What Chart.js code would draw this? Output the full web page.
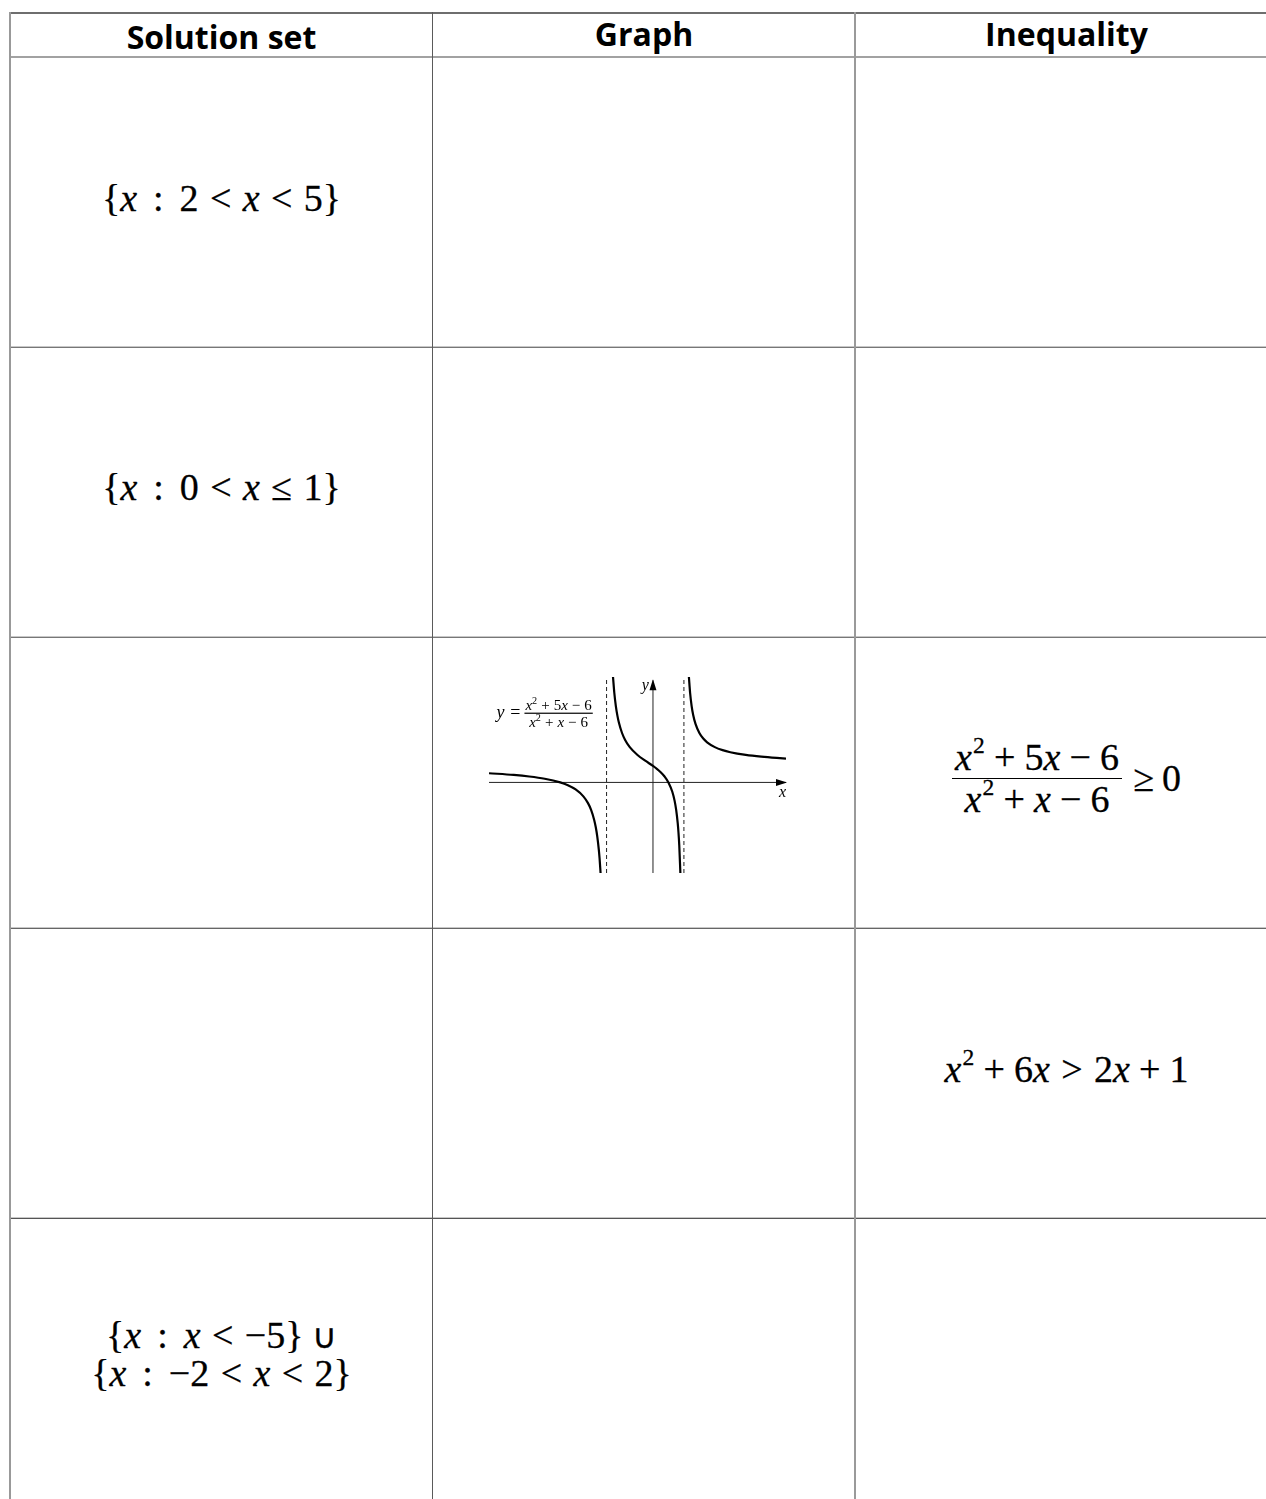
<!DOCTYPE html>
<html>
<head>
<meta charset="utf-8">
<script src="https://cdn.jsdelivr.net/npm/chart.js@4"></script>
<style>
html, body { margin:0; padding:0; background:#fff; overflow:hidden; }
body { width:1266px; height:1499px; position:relative; }
.ln { position:absolute; }
.cell { position:absolute; display:flex; align-items:center; justify-content:center; text-align:center; }
.head { font-family:"Open Sans", sans-serif; font-weight:700; font-size:32px; color:#000; }
.math { font-family:"Liberation Serif", "Times New Roman", serif; font-size:38px; color:#000; line-height:1.0; white-space:nowrap; -webkit-text-stroke:0.3px #000; }
.math i { font-style:italic; }
.rel { margin:0 0.3em; }
.col { margin:0 0.42em; }
.bin { margin:0 0.24em; }
.cup { font-size:0.9em; margin-left:0.25em; }
.frac { display:inline-flex; flex-direction:column; align-items:center; vertical-align:middle; }
.frac .num { border-bottom:1.6px solid #000; padding:0 3px 2px; }
.frac .den { padding-top:1px; }
sup { font-size:0.62em; vertical-align:0.72em; line-height:0; margin-left:0.05em; }
#chartWrap { position:absolute; left:480px; top:668px; width:320px; height:212px; }
</style>
</head>
<body>

<!-- table lines -->
<div class="ln" style="left:9px;top:12px;width:1270px;height:2px;background:#6e6e6e"></div>
<div class="ln" style="left:9px;top:56px;width:1270px;height:2px;background:#a2a2a2"></div>
<div class="ln" style="left:9px;top:346px;width:1270px;height:1px;background:#c8c8c8"></div>
<div class="ln" style="left:9px;top:347px;width:1270px;height:1px;background:#777"></div>
<div class="ln" style="left:9px;top:636px;width:1270px;height:1px;background:#c8c8c8"></div>
<div class="ln" style="left:9px;top:637px;width:1270px;height:1px;background:#777"></div>
<div class="ln" style="left:9px;top:927px;width:1270px;height:1px;background:#c8c8c8"></div>
<div class="ln" style="left:9px;top:928px;width:1270px;height:1px;background:#666"></div>
<div class="ln" style="left:9px;top:1217px;width:1270px;height:1px;background:#c8c8c8"></div>
<div class="ln" style="left:9px;top:1218px;width:1270px;height:1px;background:#555"></div>
<div class="ln" style="left:9px;top:12px;width:2px;height:1500px;background:#999"></div>
<div class="ln" style="left:432px;top:12px;width:1px;height:1500px;background:#5a5a5a"></div>
<div class="ln" style="left:854px;top:12px;width:2px;height:1500px;background:#9a9a9a"></div>

<!-- header -->
<div class="cell head" style="left:10px;top:16px;width:423px;height:40px">Solution set</div>
<div class="cell head" style="left:433px;top:13px;width:422px;height:40px">Graph</div>
<div class="cell head" style="left:855px;top:13px;width:423px;height:40px">Inequality</div>

<!-- solution sets -->
<div class="cell math" style="left:10px;top:58px;width:423px;height:279px">{<i>x</i><span class="col">:</span>2<span class="rel">&lt;</span><i>x</i><span class="rel">&lt;</span>5}</div>
<div class="cell math" style="left:10px;top:347px;width:423px;height:280px">{<i>x</i><span class="col">:</span>0<span class="rel">&lt;</span><i>x</i><span class="rel">≤</span>1}</div>
<div class="cell math" style="left:10px;top:1218px;width:423px;height:272px"><div>{<i>x</i><span class="col">:</span><i>x</i><span class="rel">&lt;</span>−5}<span class="cup">∪</span><br>{<i>x</i><span class="col">:</span>−2<span class="rel">&lt;</span><i>x</i><span class="rel">&lt;</span>2}</div></div>

<!-- inequalities -->
<div class="cell math" style="left:855px;top:637px;width:423px;height:282px"><span class="frac"><span class="num"><i>x</i><sup>2</sup><span class="bin">+</span>5<i>x</i><span class="bin">−</span>6</span><span class="den"><i>x</i><sup>2</sup><span class="bin">+</span><i>x</i><span class="bin">−</span>6</span></span><span class="rel" style="margin-right:0.2em">≥</span>0</div>
<div class="cell math" style="left:855px;top:928px;width:423px;height:282px"><span><i>x</i><sup>2</sup><span class="bin">+</span>6<i>x</i><span class="rel">&gt;</span>2<i>x</i><span class="bin">+</span>1</span></div>

<!-- graph -->
<div id="chartWrap"><canvas id="graph" width="320" height="212"></canvas></div>

<script>
const xRange = [-10.6, 8.6];
const yRange = [-5.5, 6.4];
const yAxisTop = 6.2;
const asymptotesX = [-3, 2];

// branches of y = (x^2+5x-6)/(x^2+x-6)
const leftX = [-10.6, -9, -8, -7, -6, -5.5, -5, -4.5, -4.2, -4, -3.8, -3.7, -3.6, -3.5, -3.45, -3.387];
const leftY = [0.557, 0.455, 0.36, 0.222, 0, -0.173, -0.429, -0.846, -1.258, -1.667, -2.276, -2.709, -3.286, -4.09, -4.627, -5.5];
const midX = [-2.583, -2.5, -2.4, -2.3, -2.2, -2, -1.8, -1.5, -1, -0.5, 0, 0.25, 0.5, 0.75, 1, 1.25, 1.4, 1.5, 1.6, 1.65, 1.7, 1.772];
const midY = [6.4, 5.444, 4.636, 4.056, 3.619, 3, 2.579, 2.143, 1.667, 1.32, 1, 0.824, 0.619, 0.36, 0, -0.569, -1.121, -1.667, -2.478, -3.055, -3.823, -5.5];
const rightX = [2.323, 2.4, 2.5, 2.6, 2.75, 3, 3.25, 3.5, 4, 4.5, 5, 6, 7, 8, 8.6];
const rightY = [6.4, 5.444, 4.636, 4.095, 3.551, 3, 2.664, 2.436, 2.143, 1.96, 1.833, 1.667, 1.56, 1.485, 1.45];

// where the formula label sits (centre of its fraction bar), in graph units
const eqPos = { x: -6.1, y: 4.2 };

function pts(xs, ys) {
    return xs.map((x, i) => ({ x: x, y: ys[i] }));
}

function curve(xs, ys) {
    return {
        data: pts(xs, ys),
        borderColor: '#000',
        borderWidth: 2.2,
        cubicInterpolationMode: 'monotone',
        pointRadius: 0,
        order: 0
    };
}

function guide(data, dash, color) {
    return {
        data: data,
        borderColor: color,
        borderWidth: 1,
        borderDash: dash,
        pointRadius: 0,
        order: 2
    };
}

const datasets = [
    curve(leftX, leftY),
    curve(midX, midY),
    curve(rightX, rightY),
    guide([{ x: xRange[0], y: 0 }, { x: xRange[1], y: 0 }], [], '#222'),
    guide([{ x: 0, y: yRange[0] }, { x: 0, y: yAxisTop }], [], '#222'),
];
asymptotesX.forEach(a => {
    datasets.push(guide([{ x: a, y: yRange[0] }, { x: a, y: yRange[1] }], [4, 3], '#222'));
});

const arrowsAndLabels = {
    id: 'arrowsAndLabels',
    afterDatasetsDraw(chart) {
        const c = chart.ctx;
        const xs = chart.scales.x;
        const ys = chart.scales.y;
        const x0 = xs.getPixelForValue(0);
        const y0 = ys.getPixelForValue(0);
        const xEnd = xs.getPixelForValue(xRange[1]);
        const yEnd = ys.getPixelForValue(yAxisTop);
        c.save();
        c.fillStyle = '#000';
        // x arrow
        c.beginPath();
        c.moveTo(xEnd + 1, y0);
        c.lineTo(xEnd - 10, y0 - 3.5);
        c.lineTo(xEnd - 10, y0 + 3.5);
        c.closePath();
        c.fill();
        // y arrow
        c.beginPath();
        c.moveTo(x0, yEnd - 1);
        c.lineTo(x0 - 3.5, yEnd + 10);
        c.lineTo(x0 + 3.5, yEnd + 10);
        c.closePath();
        c.fill();

        c.font = 'italic 16px "Liberation Serif", serif';
        c.textBaseline = 'alphabetic';
        c.textAlign = 'right';
        c.fillText('y', x0 - 4, yEnd + 10);
        c.fillText('x', xEnd, y0 + 15);

        // formula label
        const bx = xs.getPixelForValue(eqPos.x);
        const by = ys.getPixelForValue(eqPos.y);
        const fs = 15;
        function fontFor(p) {
            return (p.it ? 'italic ' : '') + (p.sup ? fs * 0.68 : fs) + 'px "Liberation Serif", serif';
        }
        function drawExpr(parts, cx, baseline) {
            let w = 0;
            parts.forEach(p => {
                c.font = fontFor(p);
                w += c.measureText(p.t).width + (p.gap || 0) * 2;
            });
            let x = cx - w / 2;
            c.textAlign = 'left';
            parts.forEach(p => {
                c.font = fontFor(p);
                x += p.gap || 0;
                c.fillText(p.t, x, p.sup ? baseline - 5.5 : baseline);
                x += c.measureText(p.t).width + (p.gap || 0);
            });
            return w;
        }
        const wn = drawExpr([{ t: 'x', it: 1 }, { t: '2', sup: 1 }, { t: '+', gap: 4 }, { t: '5' }, { t: 'x', it: 1 }, { t: '−', gap: 4 }, { t: '6' }], bx, by - 3.5);
        drawExpr([{ t: 'x', it: 1 }, { t: '2', sup: 1 }, { t: '+', gap: 4 }, { t: 'x', it: 1 }, { t: '−', gap: 4 }, { t: '6' }], bx, by + 13.5);
        const half = wn / 2 + 1;
        c.fillRect(bx - half, by - 0.6, half * 2, 1.2);
        c.textAlign = 'right';
        c.font = '18px "Liberation Serif", serif';
        c.fillText('=', bx - half - 4, by + 5);
        c.font = 'italic 18px "Liberation Serif", serif';
        c.fillText('y', bx - half - 20, by + 5);
        c.restore();
    }
};

const ctx = document.getElementById('graph');
new Chart(ctx, {
    type: 'line',
    data: { datasets: datasets },
    options: {
        responsive: false,
        animation: false,
        events: [],
        layout: { padding: { left: 9, right: 14, top: 9, bottom: 7 } },
        plugins: { legend: { display: false }, tooltip: { enabled: false } },
        scales: {
            x: { type: 'linear', min: xRange[0], max: xRange[1], display: false },
            y: { type: 'linear', min: yRange[0], max: yRange[1], display: false }
        }
    },
    plugins: [arrowsAndLabels]
});
</script>
</body>
</html>
